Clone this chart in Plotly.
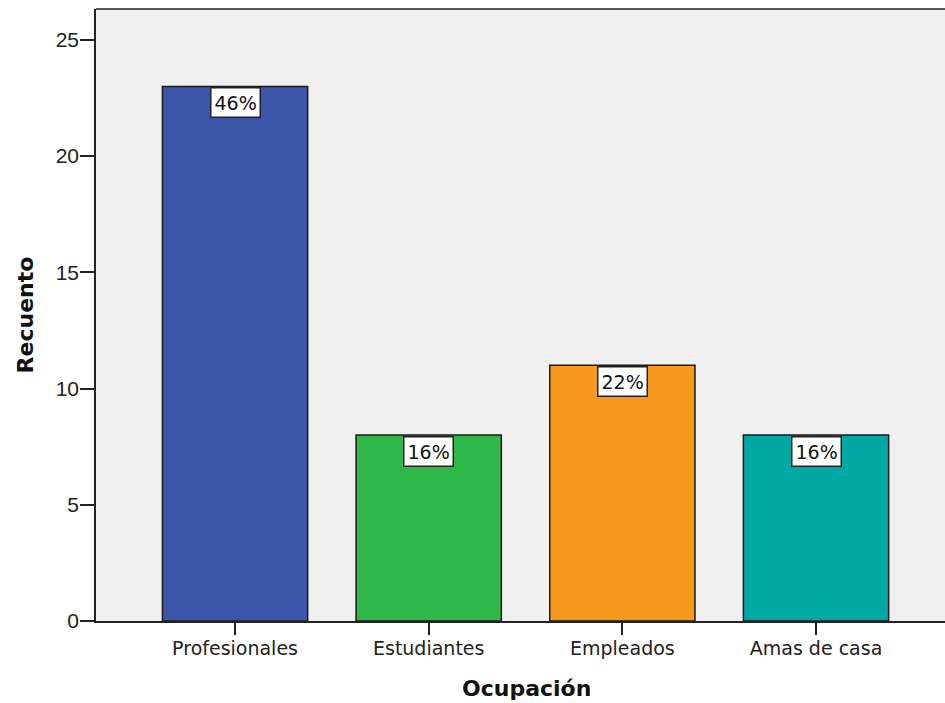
import plotly.graph_objects as go

categories = ["Profesionales", "Estudiantes", "Empleados", "Amas de casa"]
counts = [23, 8, 11, 8]
percent_labels = ["46%", "16%", "22%", "16%"]
bar_colors = ["#3d55a8", "#30b84a", "#f7981f", "#00a8a4"]
y_ticks = [0, 5, 10, 15, 20, 25]

FONT = "DejaVu Sans, Verdana, sans-serif"
TICK_FONT = "Liberation Sans, Arial, sans-serif"

# plot area in pixels: left edge 96, right edge 945, top 9, bottom 621
L, R, T, B = 96, 945, 9, 621

fig = go.Figure()
fig.add_trace(go.Bar(
    x=categories,
    y=counts,
    width=0.75,
    marker=dict(color=bar_colors, line=dict(color="#1a1a1a", width=1.5)),
    hoverinfo="skip",
))

for cat, val, lab in zip(categories, counts, percent_labels):
    fig.add_annotation(
        x=cat, y=val, xref="x", yref="y",
        text=lab, showarrow=False,
        yanchor="top", yshift=-1,
        font=dict(family=FONT, size=19, color="#111111"),
        bgcolor="white", bordercolor="#222222", borderwidth=1.5, borderpad=3,
    )

# category axis title
fig.add_annotation(
    x=(526 - L) / (R - L), y=-(688 - B) / (B - T), xref="paper", yref="paper",
    xanchor="center", yanchor="middle",
    text="<b>Ocupación</b>", showarrow=False,
    font=dict(family=FONT, size=22, color="#111111"),
)

# top frame line of the plot area
fig.add_shape(type="line", xref="paper", yref="paper", x0=0, x1=1, y0=1, y1=1,
              line=dict(color="#222222", width=1.5))

fig.update_layout(
    width=945, height=703,
    margin=dict(l=L, r=945 - R, t=T, b=703 - B),
    paper_bgcolor="white",
    plot_bgcolor="#f0f0f0",
    showlegend=False,
    xaxis=dict(
        type="category",
        range=[-0.718, 3.666],
        showgrid=False, zeroline=False,
        showline=True, linecolor="#222222", linewidth=1.5,
        ticks="outside", ticklen=12, tickwidth=1.5, tickcolor="#222222",
        ticklabelstandoff=-3,
        tickfont=dict(family=FONT, size=19, color="#222222"),
    ),
    yaxis=dict(
        range=[0, 26.33],
        tickvals=y_ticks,
        showgrid=False, zeroline=False,
        showline=True, linecolor="#222222", linewidth=1.5,
        ticks="outside", ticklen=14, tickwidth=1.5, tickcolor="#222222",
        ticklabelstandoff=-3,
        tickfont=dict(family=TICK_FONT, size=21, color="#222222"),
        title=dict(text="<b>Recuento</b>", font=dict(family=FONT, size=22, color="#111111"),
                   standoff=16),
    ),
)

fig.write_html("out.html")
